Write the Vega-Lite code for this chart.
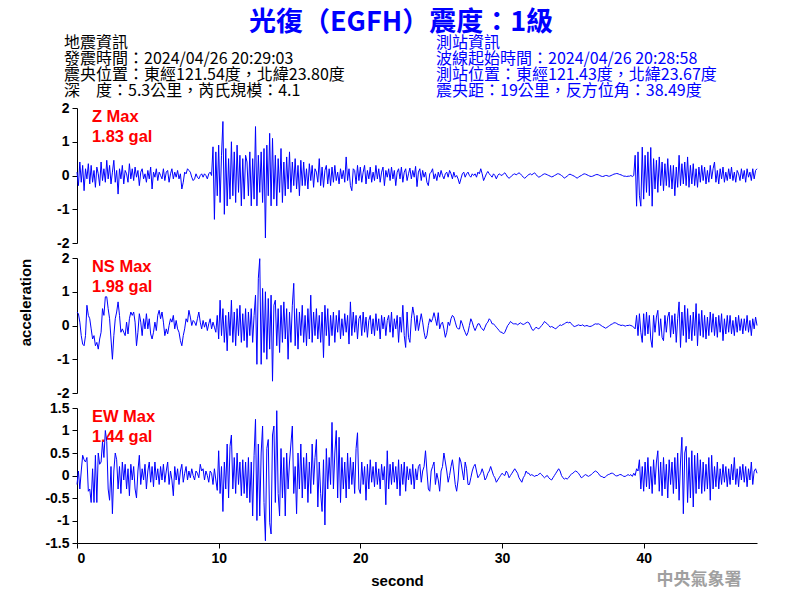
{
"$schema":"https://vega.github.io/schema/vega-lite/v6.json",
"background":"white",
"padding":{"left":17,"top":9,"right":5,"bottom":5},
"title":{"text":"光復（EGFH）震度：1級","color":"#0000ff","fontSize":27,"font":"Noto Sans CJK TC","fontWeight":"bold","anchor":"middle","frame":"group","dx":-16,"offset":-2},
"config":{"view":{"stroke":null},"axis":{"labelFont":"Liberation Sans","labelFontSize":14,"labelFontWeight":"bold","labelColor":"#000000","titleFont":"Liberation Sans","titleFontSize":15,"titleFontWeight":"bold","titleColor":"#000000","domainColor":"#000000","tickColor":"#000000","tickSize":5,"grid":false,"labelPadding":3}},
"spacing":15,
"bounds":"flush",
"datasets":{
"info":[
{"col":"eq","row":1,"text":"地震資訊"},
{"col":"eq","row":2,"text":"發震時間：2024/04/26 20:29:03"},
{"col":"eq","row":3,"text":"震央位置：東經121.54度，北緯23.80度"},
{"col":"eq","row":4,"text":"深　度：5.3公里，芮氏規模：4.1"},
{"col":"st","row":1,"text":"測站資訊"},
{"col":"st","row":2,"text":"波線起始時間：2024/04/26 20:28:58"},
{"col":"st","row":3,"text":"測站位置：東經121.43度，北緯23.67度"},
{"col":"st","row":4,"text":"震央距：19公里，反方位角：38.49度"}
],
"w":[
{"t":0,"z":0.1,"n":0.4,"e":-0.2},{"t":0.1,"z":-0.3,"n":0.35,"e":0.1},{"t":0.2,"z":0.4,"n":0.1,"e":-0.3},{"t":0.3,"z":-0.2,"n":-0.3,"e":0.1},{"t":0.4,"z":0.3,"n":-0.55,"e":0.45},{"t":0.5,"z":-0.45,"n":-0.6,"e":0.35},{"t":0.6,"z":0.2,"n":-0.3,"e":0.3},{"t":0.7,"z":-0.1,"n":0.6,"e":0.4},{"t":0.8,"z":0.35,"n":0.3,"e":-0.35},{"t":0.9,"z":-0.25,"n":0.2,"e":-0.3},
{"t":1,"z":0.3,"n":-0.1,"e":-0.6},{"t":1.1,"z":-0.2,"n":-0.4,"e":0.15},{"t":1.2,"z":0.15,"n":-0.3,"e":-0.6},{"t":1.3,"z":-0.35,"n":-0.6,"e":0.45},{"t":1.4,"z":0.25,"n":-0.5,"e":-0.6},{"t":1.5,"z":0.05,"n":-0.7,"e":0.5},{"t":1.6,"z":-0.3,"n":-0.4,"e":0.25},{"t":1.7,"z":0.4,"n":-0.2,"e":0.3},{"t":1.8,"z":-0.15,"n":0.5,"e":0.75},{"t":1.9,"z":0.2,"n":0.3,"e":0.4},
{"t":2,"z":-0.2,"n":0.85,"e":1.0},{"t":2.1,"z":0.45,"n":0.85,"e":0.75},{"t":2.2,"z":-0.1,"n":0.5,"e":-0.3},{"t":2.3,"z":0.3,"n":0.2,"e":-0.55},{"t":2.4,"z":-0.25,"n":-0.4,"e":0.2},{"t":2.5,"z":0.1,"n":-1.0,"e":-0.85},{"t":2.6,"z":0.45,"n":-0.3,"e":0.1},{"t":2.7,"z":-0.2,"n":0.2,"e":0.5},{"t":2.8,"z":0.15,"n":0.4,"e":0.35},{"t":2.9,"z":-0.55,"n":0.7,"e":-0.3},
{"t":3,"z":0.2,"n":0.3,"e":0.2},{"t":3.1,"z":-0.1,"n":-0.2,"e":-0.4},{"t":3.2,"z":0.3,"n":-0.1,"e":0.3},{"t":3.3,"z":-0.25,"n":-0.2,"e":-0.1},{"t":3.4,"z":0.15,"n":-0.3,"e":0.25},{"t":3.5,"z":0.05,"n":0.1,"e":-0.3},{"t":3.6,"z":-0.2,"n":-0.25,"e":0.15},{"t":3.7,"z":0.35,"n":0.2,"e":-0.45},{"t":3.8,"z":-0.1,"n":0.4,"e":0.25},{"t":3.9,"z":0.2,"n":0.3,"e":-0.1},
{"t":4,"z":-0.15,"n":0.4,"e":0.2},{"t":4.1,"z":0.25,"n":0.1,"e":-0.3},{"t":4.2,"z":-0.05,"n":-0.6,"e":-0.5},{"t":4.3,"z":0.15,"n":-0.2,"e":0.1},{"t":4.4,"z":-0.3,"n":0.35,"e":0.45},{"t":4.5,"z":0.1,"n":0.1,"e":-0.2},{"t":4.6,"z":0.2,"n":-0.3,"e":0.15},{"t":4.7,"z":-0.1,"n":0.2,"e":-0.1},{"t":4.8,"z":0.05,"n":-0.1,"e":0.25},{"t":4.9,"z":-0.2,"n":0.35,"e":-0.3},
{"t":5,"z":0.15,"n":-0.1,"e":0.1},{"t":5.1,"z":-0.1,"n":0.2,"e":0.3},{"t":5.2,"z":0.25,"n":-0.25,"e":-0.15},{"t":5.3,"z":-0.4,"n":-0.4,"e":0.2},{"t":5.4,"z":0.1,"n":-0.2,"e":-0.25},{"t":5.5,"z":-0.05,"n":0.1,"e":0.3},{"t":5.6,"z":0.2,"n":-0.15,"e":-0.1},{"t":5.7,"z":-0.15,"n":0.3,"e":0.15},{"t":5.8,"z":0.1,"n":0.45,"e":-0.2},{"t":5.9,"z":0.0,"n":0.2,"e":0.2},
{"t":6,"z":-0.1,"n":0.4,"e":-0.1},{"t":6.1,"z":0.2,"n":0.1,"e":0.25},{"t":6.2,"z":-0.15,"n":-0.3,"e":-0.15},{"t":6.3,"z":0.1,"n":-0.1,"e":0.1},{"t":6.4,"z":0.15,"n":-0.25,"e":0.3},{"t":6.5,"z":-0.2,"n":0.0,"e":-0.2},{"t":6.6,"z":0.05,"n":0.2,"e":0.1},{"t":6.7,"z":0.2,"n":0.1,"e":-0.1},{"t":6.8,"z":-0.1,"n":0.3,"e":-0.45},{"t":6.9,"z":0.1,"n":-0.1,"e":0.2},
{"t":7,"z":-0.05,"n":0.15,"e":-0.1},{"t":7.1,"z":0.15,"n":-0.1,"e":0.15},{"t":7.2,"z":-0.1,"n":-0.2,"e":-0.2},{"t":7.3,"z":0.05,"n":-0.45,"e":0.1},{"t":7.4,"z":-0.4,"n":-0.6,"e":0.25},{"t":7.5,"z":-0.2,"n":-0.3,"e":-0.15},{"t":7.6,"z":0.1,"n":-0.1,"e":0.05},{"t":7.7,"z":0.05,"n":0.2,"e":0.2},{"t":7.8,"z":0.2,"n":0.1,"e":-0.1},{"t":7.9,"z":0.15,"n":0.45,"e":0.1},
{"t":8,"z":0.1,"n":0.25,"e":-0.05},{"t":8.1,"z":-0.05,"n":0.0,"e":0.15},{"t":8.2,"z":-0.15,"n":0.15,"e":0.0},{"t":8.3,"z":-0.1,"n":0.1,"e":-0.1},{"t":8.4,"z":0.05,"n":0.0,"e":0.1},{"t":8.5,"z":-0.05,"n":0.2,"e":0.05},{"t":8.6,"z":-0.1,"n":0.4,"e":-0.05},{"t":8.7,"z":0.0,"n":0.1,"e":0.25},{"t":8.8,"z":0.05,"n":-0.1,"e":0.1},{"t":8.9,"z":-0.05,"n":0.15,"e":0.15},
{"t":9,"z":0.05,"n":-0.05,"e":-0.1},{"t":9.1,"z":0.0,"n":0.1,"e":0.1},{"t":9.2,"z":-0.1,"n":-0.15,"e":0.0},{"t":9.3,"z":0.05,"n":0.05,"e":-0.15},{"t":9.4,"z":0.1,"n":0.2,"e":0.1},{"t":9.5,"z":0.0,"n":-0.1,"e":0.05},{"t":9.6,"z":0.85,"n":0.1,"e":-0.2},{"t":9.7,"z":-1.3,"n":-0.05,"e":0.15},{"t":9.8,"z":0.7,"n":-0.2,"e":-0.1},{"t":9.9,"z":-0.6,"n":0.3,"e":-0.33},
{"t":10,"z":0.9,"n":-0.4,"e":0.55},{"t":10.1,"z":-0.8,"n":0.75,"e":-0.4},{"t":10.2,"z":0.6,"n":-0.3,"e":0.2},{"t":10.3,"z":1.6,"n":0.5,"e":-0.8},{"t":10.4,"z":-1.15,"n":-0.5,"e":0.3},{"t":10.5,"z":0.8,"n":0.3,"e":-0.3},{"t":10.6,"z":-0.9,"n":-0.75,"e":0.7},{"t":10.7,"z":0.5,"n":0.4,"e":-0.5},{"t":10.8,"z":-0.7,"n":-0.3,"e":0.65},{"t":10.9,"z":1.0,"n":0.75,"e":0.9},
{"t":11,"z":-0.6,"n":-0.5,"e":-0.3},{"t":11.1,"z":0.7,"n":0.4,"e":0.4},{"t":11.2,"z":-0.8,"n":-0.6,"e":-0.4},{"t":11.3,"z":0.9,"n":0.5,"e":0.5},{"t":11.4,"z":-0.5,"n":-0.3,"e":-0.2},{"t":11.5,"z":0.6,"n":0.6,"e":0.3},{"t":11.6,"z":-0.9,"n":-0.5,"e":-0.45},{"t":11.7,"z":0.5,"n":0.35,"e":0.35},{"t":11.8,"z":-0.7,"n":-0.45,"e":-0.4},{"t":11.9,"z":0.6,"n":0.5,"e":0.3},
{"t":12,"z":0.4,"n":-0.65,"e":-0.5},{"t":12.1,"z":-0.6,"n":0.4,"e":0.4},{"t":12.2,"z":0.7,"n":-0.3,"e":-0.6},{"t":12.3,"z":-0.9,"n":0.5,"e":0.3},{"t":12.4,"z":0.5,"n":-0.5,"e":-0.9},{"t":12.5,"z":-0.7,"n":0.3,"e":0.45},{"t":12.6,"z":1.45,"n":0.9,"e":1.25},{"t":12.7,"z":-0.9,"n":-1.15,"e":-1.0},{"t":12.8,"z":0.6,"n":1.4,"e":0.7},{"t":12.9,"z":-0.5,"n":1.98,"e":-0.9},
{"t":13,"z":0.7,"n":-1.15,"e":0.5},{"t":13.1,"z":-0.8,"n":1.1,"e":1.1},{"t":13.2,"z":0.8,"n":-0.8,"e":-0.6},{"t":13.3,"z":-1.85,"n":1.0,"e":-1.45},{"t":13.4,"z":0.9,"n":-1.0,"e":0.6},{"t":13.5,"z":-0.6,"n":0.8,"e":0.8},{"t":13.6,"z":1.25,"n":-0.7,"e":-1.05},{"t":13.7,"z":-0.9,"n":0.9,"e":-1.3},{"t":13.8,"z":1.1,"n":-1.65,"e":0.9},{"t":13.9,"z":-0.7,"n":0.6,"e":1.1},
{"t":14,"z":0.6,"n":0.75,"e":-0.6},{"t":14.1,"z":-0.9,"n":-0.6,"e":1.44},{"t":14.2,"z":0.5,"n":0.5,"e":-0.4},{"t":14.3,"z":-0.5,"n":-0.8,"e":-0.9},{"t":14.4,"z":0.8,"n":0.6,"e":0.6},{"t":14.5,"z":-0.8,"n":-0.5,"e":-0.5},{"t":14.6,"z":0.4,"n":0.7,"e":0.4},{"t":14.7,"z":-0.6,"n":-0.4,"e":-0.9},{"t":14.8,"z":0.55,"n":0.5,"e":0.5},{"t":14.9,"z":-0.4,"n":-1.0,"e":-0.3},
{"t":15,"z":0.7,"n":0.4,"e":0.3},{"t":15.1,"z":-0.5,"n":-0.5,"e":0.7},{"t":15.2,"z":0.4,"n":0.6,"e":1.1},{"t":15.3,"z":-0.3,"n":1.25,"e":-0.4},{"t":15.4,"z":0.5,"n":-0.6,"e":0.2},{"t":15.5,"z":-0.4,"n":0.5,"e":-0.85},{"t":15.6,"z":0.3,"n":-0.7,"e":0.5},{"t":15.7,"z":-0.6,"n":0.4,"e":-0.3},{"t":15.8,"z":0.45,"n":-0.3,"e":0.7},{"t":15.9,"z":-0.3,"n":0.6,"e":-0.5},
{"t":16,"z":0.4,"n":-0.5,"e":0.4},{"t":16.1,"z":-0.3,"n":0.3,"e":-0.3},{"t":16.2,"z":0.2,"n":-0.6,"e":0.5},{"t":16.3,"z":-0.4,"n":0.5,"e":-0.6},{"t":16.4,"z":0.35,"n":-0.4,"e":0.3},{"t":16.5,"z":-0.15,"n":0.9,"e":-0.4},{"t":16.6,"z":0.3,"n":-0.5,"e":0.7},{"t":16.7,"z":-0.35,"n":0.4,"e":-0.2},{"t":16.8,"z":0.2,"n":-0.3,"e":0.4},{"t":16.9,"z":0.1,"n":0.5,"e":0.8},
{"t":17,"z":-0.2,"n":-0.4,"e":-0.7},{"t":17.1,"z":0.5,"n":0.3,"e":0.3},{"t":17.2,"z":-0.3,"n":-0.5,"e":-0.4},{"t":17.3,"z":0.25,"n":0.4,"e":-0.8},{"t":17.4,"z":-0.35,"n":-0.95,"e":0.35},{"t":17.5,"z":0.15,"n":0.6,"e":-1.1},{"t":17.6,"z":0.3,"n":-0.3,"e":0.6},{"t":17.7,"z":-0.25,"n":0.5,"e":-0.3},{"t":17.8,"z":0.2,"n":-0.6,"e":0.4},{"t":17.9,"z":-0.3,"n":0.3,"e":-0.2},
{"t":18,"z":0.25,"n":-0.3,"e":1.18},{"t":18.1,"z":-0.2,"n":0.4,"e":-0.3},{"t":18.2,"z":0.3,"n":-0.5,"e":0.5},{"t":18.3,"z":-0.15,"n":0.3,"e":1.0},{"t":18.4,"z":0.1,"n":-0.2,"e":-0.5},{"t":18.5,"z":-0.25,"n":0.45,"e":0.85},{"t":18.6,"z":0.2,"n":-0.4,"e":-0.6},{"t":18.7,"z":-0.1,"n":0.2,"e":0.4},{"t":18.8,"z":0.15,"n":-0.3,"e":-0.3},{"t":18.9,"z":-0.2,"n":0.35,"e":0.3},
{"t":19,"z":0.55,"n":-0.2,"e":-0.5},{"t":19.1,"z":-0.15,"n":0.3,"e":0.5},{"t":19.2,"z":0.2,"n":-0.55,"e":-0.3},{"t":19.3,"z":-0.3,"n":0.7,"e":0.4},{"t":19.4,"z":-0.45,"n":-0.3,"e":-0.2},{"t":19.5,"z":0.2,"n":0.4,"e":0.3},{"t":19.6,"z":0.15,"n":-0.2,"e":-0.4},{"t":19.7,"z":-0.25,"n":0.3,"e":0.6},{"t":19.8,"z":0.3,"n":-0.4,"e":0.95},{"t":19.9,"z":-0.15,"n":0.2,"e":-0.3},
{"t":20,"z":0.25,"n":0.3,"e":-0.4},{"t":20.1,"z":-0.2,"n":-0.3,"e":0.3},{"t":20.2,"z":0.1,"n":0.4,"e":-0.2},{"t":20.3,"z":0.3,"n":-0.2,"e":0.2},{"t":20.4,"z":-0.25,"n":0.25,"e":-0.55},{"t":20.5,"z":0.15,"n":-0.35,"e":0.25},{"t":20.6,"z":-0.1,"n":0.15,"e":-0.3},{"t":20.7,"z":0.25,"n":0.3,"e":0.35},{"t":20.8,"z":-0.2,"n":-0.25,"e":-0.15},{"t":20.9,"z":0.1,"n":0.2,"e":0.2},
{"t":21,"z":-0.15,"n":-0.3,"e":-0.25},{"t":21.1,"z":0.3,"n":0.35,"e":0.3},{"t":21.2,"z":-0.1,"n":-0.15,"e":-0.2},{"t":21.3,"z":0.2,"n":0.2,"e":0.15},{"t":21.4,"z":-0.2,"n":-0.4,"e":-0.3},{"t":21.5,"z":0.1,"n":0.3,"e":0.25},{"t":21.6,"z":0.25,"n":-0.1,"e":-0.1},{"t":21.7,"z":-0.3,"n":0.25,"e":0.2},{"t":21.8,"z":0.15,"n":-0.3,"e":-0.65},{"t":21.9,"z":-0.05,"n":0.15,"e":0.55},
{"t":22,"z":0.2,"n":0.3,"e":-0.3},{"t":22.1,"z":-0.15,"n":-0.2,"e":0.25},{"t":22.2,"z":0.25,"n":0.4,"e":-0.2},{"t":22.3,"z":-0.1,"n":-0.35,"e":0.3},{"t":22.4,"z":0.15,"n":0.2,"e":-0.15},{"t":22.5,"z":-0.3,"n":-0.1,"e":0.2},{"t":22.6,"z":0.1,"n":0.3,"e":-0.3},{"t":22.7,"z":0.2,"n":-0.5,"e":0.35},{"t":22.8,"z":-0.1,"n":0.25,"e":-0.45},{"t":22.9,"z":0.25,"n":-0.2,"e":0.25},
{"t":23,"z":-0.2,"n":0.6,"e":-0.2},{"t":23.1,"z":0.1,"n":-0.3,"e":0.3},{"t":23.2,"z":0.2,"n":-0.65,"e":-0.35},{"t":23.3,"z":-0.15,"n":0.4,"e":0.2},{"t":23.4,"z":0.05,"n":-0.35,"e":-0.1},{"t":23.5,"z":0.22,"n":-0.5,"e":0.15},{"t":23.6,"z":-0.1,"n":0.2,"e":-0.2},{"t":23.7,"z":0.15,"n":0.55,"e":0.25},{"t":23.8,"z":-0.05,"n":0.3,"e":-0.3},{"t":23.9,"z":0.27,"n":-0.15,"e":0.15},
{"t":24,"z":-0.33,"n":0.3,"e":-0.1},{"t":24.1,"z":0.1,"n":-0.15,"e":0.2},{"t":24.2,"z":0.2,"n":0.1,"e":0.25},{"t":24.3,"z":-0.15,"n":0.35,"e":-0.15},{"t":24.4,"z":0.15,"n":0.1,"e":0.1},{"t":24.5,"z":-0.05,"n":-0.2,"e":0.2},{"t":24.6,"z":0.1,"n":-0.4,"e":0.55},{"t":24.7,"z":-0.2,"n":-0.3,"e":0.1},{"t":24.8,"z":-0.3,"n":0.0,"e":-0.3},{"t":24.9,"z":0.05,"n":0.2,"e":-0.35},
{"t":25,"z":0.1,"n":0.1,"e":0.1},{"t":25.1,"z":0.2,"n":0.2,"e":0.2},{"t":25.2,"z":-0.1,"n":0.38,"e":0.3},{"t":25.3,"z":0.05,"n":0.2,"e":-0.2},{"t":25.4,"z":-0.15,"n":0.0,"e":0.05},{"t":25.5,"z":0.1,"n":0.38,"e":-0.1},{"t":25.6,"z":-0.05,"n":-0.1,"e":-0.35},{"t":25.7,"z":0.15,"n":0.05,"e":0.1},{"t":25.8,"z":0.0,"n":0.1,"e":0.2},{"t":25.9,"z":-0.1,"n":-0.1,"e":0.5},
{"t":26,"z":0.05,"n":-0.35,"e":0.3},{"t":26.1,"z":0.1,"n":-0.2,"e":0.1},{"t":26.2,"z":-0.05,"n":0.1,"e":-0.15},{"t":26.3,"z":0.15,"n":0.0,"e":0.0},{"t":26.4,"z":0.05,"n":0.2,"e":0.2},{"t":26.5,"z":-0.1,"n":0.3,"e":0.35},{"t":26.6,"z":0.1,"n":0.25,"e":0.1},{"t":26.7,"z":-0.05,"n":0.1,"e":-0.2},{"t":26.8,"z":0.0,"n":-0.05,"e":-0.35},{"t":26.9,"z":-0.1,"n":-0.1,"e":-0.1},
{"t":27,"z":-0.25,"n":-0.1,"e":0.4},{"t":27.1,"z":-0.1,"n":0.15,"e":0.3},{"t":27.2,"z":0.05,"n":0.05,"e":0.1},{"t":27.3,"z":0.1,"n":-0.1,"e":-0.1},{"t":27.4,"z":-0.05,"n":-0.2,"e":0.3},{"t":27.5,"z":0.05,"n":-0.3,"e":0.15},{"t":27.6,"z":0.1,"n":-0.2,"e":-0.2},{"t":27.7,"z":0.0,"n":0.0,"e":-0.2},{"t":27.8,"z":-0.05,"n":0.2,"e":-0.05},{"t":27.9,"z":0.05,"n":0.1,"e":0.1},
{"t":28,"z":0.0,"n":-0.05,"e":0.2},{"t":28.1,"z":0.05,"n":-0.15,"e":0.25},{"t":28.2,"z":-0.05,"n":-0.05,"e":0.1},{"t":28.3,"z":0.1,"n":0.05,"e":-0.05},{"t":28.4,"z":0.05,"n":0.05,"e":0.0},{"t":28.5,"z":0.2,"n":-0.05,"e":0.05},{"t":28.6,"z":0.05,"n":-0.1,"e":0.15},{"t":28.7,"z":-0.15,"n":-0.15,"e":0.05},{"t":28.8,"z":-0.05,"n":-0.05,"e":-0.1},{"t":28.9,"z":0.05,"n":0.05,"e":-0.05},
{"t":29,"z":0.12,"n":0.1,"e":0.05},{"t":29.1,"z":0.05,"n":0.2,"e":0.1},{"t":29.2,"z":0.0,"n":0.15,"e":0.2},{"t":29.3,"z":-0.05,"n":0.05,"e":0.1},{"t":29.4,"z":0.05,"n":0.05,"e":0.0},{"t":29.5,"z":0.0,"n":0.0,"e":-0.05},{"t":29.6,"z":-0.1,"n":-0.05,"e":-0.15},{"t":29.7,"z":0.0,"n":-0.1,"e":-0.1},{"t":29.8,"z":0.05,"n":-0.15,"e":-0.05},{"t":29.9,"z":0.02,"n":-0.2,"e":0.0},
{"t":30,"z":0.0,"n":-0.2,"e":0.05},{"t":30.1,"z":0.05,"n":-0.25,"e":0.02},{"t":30.2,"z":0.08,"n":-0.2,"e":0.0},{"t":30.3,"z":0.02,"n":-0.1,"e":0.1},{"t":30.4,"z":-0.05,"n":0.0,"e":0.05},{"t":30.5,"z":-0.08,"n":0.05,"e":-0.05},{"t":30.6,"z":-0.05,"n":0.12,"e":0.0},{"t":30.7,"z":0.0,"n":0.08,"e":0.05},{"t":30.8,"z":0.03,"n":0.05,"e":0.1},{"t":30.9,"z":0.05,"n":0.05,"e":0.15},
{"t":31,"z":0.02,"n":0.05,"e":0.1},{"t":31.1,"z":0.05,"n":0.02,"e":0.05},{"t":31.2,"z":0.08,"n":0.05,"e":-0.05},{"t":31.3,"z":0.05,"n":0.08,"e":-0.1},{"t":31.4,"z":0.0,"n":0.05,"e":-0.15},{"t":31.5,"z":-0.05,"n":0.03,"e":-0.05},{"t":31.6,"z":-0.08,"n":0.05,"e":0.0},{"t":31.7,"z":-0.05,"n":0.08,"e":0.1},{"t":31.8,"z":0.0,"n":0.1,"e":0.05},{"t":31.9,"z":0.03,"n":0.08,"e":0.05},
{"t":32,"z":0.05,"n":0.0,"e":0.0},{"t":32.1,"z":0.02,"n":-0.1,"e":0.02},{"t":32.2,"z":0.05,"n":-0.15,"e":0.0},{"t":32.3,"z":0.08,"n":-0.1,"e":-0.02},{"t":32.4,"z":0.03,"n":-0.05,"e":0.0},{"t":32.5,"z":-0.02,"n":-0.08,"e":0.0},{"t":32.6,"z":-0.05,"n":-0.1,"e":0.03},{"t":32.7,"z":-0.03,"n":-0.05,"e":0.05},{"t":32.8,"z":0.0,"n":0.0,"e":0.02},{"t":32.9,"z":0.03,"n":0.05,"e":-0.02},
{"t":33,"z":0.05,"n":0.12,"e":-0.05},{"t":33.1,"z":0.04,"n":0.08,"e":-0.02},{"t":33.2,"z":0.02,"n":0.05,"e":0.0},{"t":33.3,"z":0.0,"n":0.0,"e":-0.05},{"t":33.4,"z":-0.02,"n":-0.05,"e":-0.08},{"t":33.5,"z":-0.04,"n":-0.03,"e":-0.1},{"t":33.6,"z":-0.03,"n":-0.05,"e":-0.05},{"t":33.7,"z":0.0,"n":-0.08,"e":0.0},{"t":33.8,"z":0.02,"n":-0.1,"e":0.05},{"t":33.9,"z":0.05,"n":-0.05,"e":0.1},
{"t":34,"z":0.05,"n":-0.02,"e":0.15},{"t":34.1,"z":0.03,"n":0.02,"e":0.1},{"t":34.2,"z":0.0,"n":0.0,"e":0.0},{"t":34.3,"z":-0.03,"n":0.03,"e":-0.05},{"t":34.4,"z":-0.08,"n":0.05,"e":-0.08},{"t":34.5,"z":-0.05,"n":0.08,"e":-0.06},{"t":34.6,"z":-0.02,"n":0.1,"e":-0.08},{"t":34.7,"z":0.02,"n":0.08,"e":-0.05},{"t":34.8,"z":0.04,"n":0.1,"e":0.0},{"t":34.9,"z":0.02,"n":0.05,"e":0.03},
{"t":35,"z":0.0,"n":0.0,"e":0.05},{"t":35.1,"z":-0.02,"n":-0.03,"e":0.08},{"t":35.2,"z":-0.05,"n":-0.02,"e":0.1},{"t":35.3,"z":-0.08,"n":0.0,"e":0.08},{"t":35.4,"z":-0.05,"n":0.02,"e":0.05},{"t":35.5,"z":-0.02,"n":0.0,"e":0.0},{"t":35.6,"z":0.0,"n":0.0,"e":-0.05},{"t":35.7,"z":0.03,"n":0.02,"e":-0.03},{"t":35.8,"z":0.05,"n":-0.02,"e":0.0},{"t":35.9,"z":0.04,"n":-0.01,"e":0.02},
{"t":36,"z":0.02,"n":0.0,"e":0.0},{"t":36.1,"z":0.0,"n":-0.02,"e":-0.02},{"t":36.2,"z":-0.02,"n":-0.03,"e":0.0},{"t":36.3,"z":-0.03,"n":-0.02,"e":0.02},{"t":36.4,"z":-0.02,"n":0.0,"e":0.05},{"t":36.5,"z":0.0,"n":0.03,"e":0.08},{"t":36.6,"z":0.02,"n":0.05,"e":0.1},{"t":36.7,"z":0.03,"n":0.04,"e":0.08},{"t":36.8,"z":0.02,"n":0.05,"e":0.05},{"t":36.9,"z":0.0,"n":0.03,"e":0.0},
{"t":37,"z":-0.02,"n":0.0,"e":-0.02},{"t":37.1,"z":-0.03,"n":-0.03,"e":-0.03},{"t":37.2,"z":-0.02,"n":-0.05,"e":-0.05},{"t":37.3,"z":0.0,"n":-0.08,"e":-0.03},{"t":37.4,"z":0.0,"n":-0.06,"e":0.0},{"t":37.5,"z":-0.02,"n":-0.03,"e":0.02},{"t":37.6,"z":-0.02,"n":0.0,"e":0.03},{"t":37.7,"z":0.0,"n":0.03,"e":0.05},{"t":37.8,"z":0.02,"n":0.05,"e":0.05},{"t":37.9,"z":0.04,"n":0.08,"e":0.03},
{"t":38,"z":0.05,"n":0.08,"e":0.0},{"t":38.1,"z":0.06,"n":0.06,"e":-0.01},{"t":38.2,"z":0.05,"n":0.03,"e":0.0},{"t":38.3,"z":0.03,"n":0.02,"e":0.02},{"t":38.4,"z":0.02,"n":0.0,"e":0.02},{"t":38.5,"z":0.0,"n":0.01,"e":0.0},{"t":38.6,"z":-0.02,"n":0.0,"e":-0.02},{"t":38.7,"z":-0.02,"n":-0.02,"e":-0.02},{"t":38.8,"z":-0.03,"n":0.0,"e":0.0},{"t":38.9,"z":-0.02,"n":0.0,"e":0.02},
{"t":39,"z":-0.02,"n":0.01,"e":0.0},{"t":39.1,"z":0.0,"n":0.0,"e":0.02},{"t":39.2,"z":-0.03,"n":-0.02,"e":-0.02},{"t":39.3,"z":0.0,"n":-0.05,"e":0.05},{"t":39.4,"z":0.6,"n":-0.1,"e":0.0},{"t":39.5,"z":-0.91,"n":0.3,"e":0.15},{"t":39.6,"z":0.7,"n":-0.3,"e":0.1},{"t":39.7,"z":-0.6,"n":0.35,"e":0.35},{"t":39.8,"z":-0.91,"n":-0.2,"e":-0.3},{"t":39.9,"z":0.84,"n":-0.5,"e":0.2},
{"t":40,"z":-0.7,"n":0.35,"e":-0.35},{"t":40.1,"z":0.6,"n":-0.3,"e":0.3},{"t":40.2,"z":-0.5,"n":0.4,"e":-0.25},{"t":40.3,"z":0.7,"n":-0.25,"e":0.4},{"t":40.4,"z":-0.6,"n":0.3,"e":-0.3},{"t":40.5,"z":0.83,"n":-0.4,"e":0.2},{"t":40.6,"z":-0.91,"n":-0.65,"e":-0.4},{"t":40.7,"z":0.5,"n":0.3,"e":0.35},{"t":40.8,"z":-0.4,"n":-0.2,"e":-0.2},{"t":40.9,"z":0.45,"n":0.25,"e":0.3},
{"t":41,"z":-0.5,"n":0.45,"e":0.55},{"t":41.1,"z":0.55,"n":-0.3,"e":-0.35},{"t":41.2,"z":-0.3,"n":0.2,"e":0.3},{"t":41.3,"z":0.4,"n":-0.35,"e":-0.45},{"t":41.4,"z":-0.45,"n":-0.45,"e":0.4},{"t":41.5,"z":0.35,"n":0.3,"e":-0.3},{"t":41.6,"z":-0.3,"n":-0.2,"e":0.25},{"t":41.7,"z":0.5,"n":0.25,"e":-0.5},{"t":41.8,"z":-0.35,"n":0.4,"e":0.35},{"t":41.9,"z":0.3,"n":-0.35,"e":-0.2},
{"t":42,"z":-0.4,"n":0.3,"e":0.3},{"t":42.1,"z":0.3,"n":-0.25,"e":-0.4},{"t":42.2,"z":-0.6,"n":0.35,"e":0.4},{"t":42.3,"z":0.25,"n":-0.5,"e":-0.3},{"t":42.4,"z":-0.35,"n":0.2,"e":0.5},{"t":42.5,"z":0.6,"n":0.7,"e":-0.55},{"t":42.6,"z":-0.3,"n":-0.65,"e":0.3},{"t":42.7,"z":0.35,"n":0.4,"e":0.85},{"t":42.8,"z":-0.25,"n":-0.3,"e":-0.85},{"t":42.9,"z":0.4,"n":0.6,"e":0.5},
{"t":43,"z":-0.3,"n":-0.5,"e":0.65},{"t":43.1,"z":0.55,"n":0.5,"e":-0.6},{"t":43.2,"z":-0.35,"n":-0.4,"e":0.4},{"t":43.3,"z":0.3,"n":0.3,"e":-0.5},{"t":43.4,"z":-0.25,"n":-0.45,"e":0.55},{"t":43.5,"z":0.35,"n":0.4,"e":-0.7},{"t":43.6,"z":-0.3,"n":-0.3,"e":0.45},{"t":43.7,"z":0.2,"n":0.65,"e":-0.4},{"t":43.8,"z":-0.35,"n":-0.6,"e":0.5},{"t":43.9,"z":0.25,"n":0.35,"e":-0.3},
{"t":44,"z":-0.2,"n":-0.3,"e":0.35},{"t":44.1,"z":0.3,"n":0.45,"e":-0.4},{"t":44.2,"z":-0.15,"n":-0.35,"e":0.3},{"t":44.3,"z":0.25,"n":0.3,"e":-0.35},{"t":44.4,"z":-0.25,"n":-0.4,"e":0.25},{"t":44.5,"z":0.15,"n":0.25,"e":-0.3},{"t":44.6,"z":-0.2,"n":-0.3,"e":0.4},{"t":44.7,"z":0.3,"n":0.4,"e":-0.55},{"t":44.8,"z":-0.1,"n":-0.2,"e":0.45},{"t":44.9,"z":0.2,"n":0.35,"e":-0.3},
{"t":45,"z":0.4,"n":-0.3,"e":0.2},{"t":45.1,"z":-0.2,"n":0.25,"e":-0.25},{"t":45.2,"z":0.15,"n":-0.35,"e":0.3},{"t":45.3,"z":-0.25,"n":0.3,"e":-0.3},{"t":45.4,"z":0.2,"n":-0.2,"e":0.15},{"t":45.5,"z":-0.1,"n":0.35,"e":-0.2},{"t":45.6,"z":0.25,"n":-0.45,"e":0.25},{"t":45.7,"z":-0.2,"n":0.2,"e":-0.15},{"t":45.8,"z":0.1,"n":-0.25,"e":0.2},{"t":45.9,"z":-0.15,"n":0.3,"e":-0.25},
{"t":46,"z":0.2,"n":-0.2,"e":0.15},{"t":46.1,"z":-0.1,"n":0.3,"e":-0.2},{"t":46.2,"z":0.25,"n":-0.25,"e":0.25},{"t":46.3,"z":-0.15,"n":0.15,"e":-0.1},{"t":46.4,"z":0.1,"n":-0.3,"e":0.4},{"t":46.5,"z":-0.2,"n":0.25,"e":-0.2},{"t":46.6,"z":0.15,"n":-0.2,"e":0.15},{"t":46.7,"z":0.05,"n":0.3,"e":-0.25},{"t":46.8,"z":-0.15,"n":-0.15,"e":0.2},{"t":46.9,"z":0.2,"n":0.2,"e":-0.1},
{"t":47,"z":-0.1,"n":-0.25,"e":0.25},{"t":47.1,"z":0.15,"n":0.2,"e":-0.15},{"t":47.2,"z":-0.2,"n":-0.15,"e":0.2},{"t":47.3,"z":0.2,"n":0.3,"e":-0.25},{"t":47.4,"z":-0.05,"n":-0.2,"e":0.15},{"t":47.5,"z":0.1,"n":0.15,"e":-0.1},{"t":47.6,"z":-0.15,"n":-0.3,"e":0.3},{"t":47.7,"z":0.2,"n":0.2,"e":-0.2},{"t":47.8,"z":-0.1,"n":-0.1,"e":0.1},{"t":47.9,"z":0.15,"n":0.25,"e":0.15},
{"t":48,"z":0.2,"n":0.0,"e":0.05}
]},
"vconcat":[
{"width":680,"height":50,"data":{"name":"info"},
 "mark":{"type":"text","align":"left","baseline":"middle","font":"Noto Sans CJK TC","fontSize":16},
 "encoding":{
  "x":{"field":"col","type":"nominal","axis":null,"scale":{"type":"point","domain":["eq","st"],"range":[-13,359],"padding":0}},
  "y":{"field":"row","type":"quantitative","axis":null,"scale":{"domain":[1,4.125],"reverse":true}},
  "text":{"field":"text"},
  "color":{"field":"col","type":"nominal","legend":null,"scale":{"domain":["eq","st"],"range":["#000000","#0000ff"]}}}},
{"width":680,"height":135,
 "layer":[
  {"data":{"values":[{"lab":"Z Max\n1.83 gal"}]},
   "mark":{"type":"text","align":"left","baseline":"top","color":"#ff0000","fontSize":16.5,"fontWeight":"bold","font":"Liberation Sans","lineBreak":"\n","lineHeight":20,"dy":1},
   "encoding":{"x":{"datum":1.05,"type":"quantitative","scale":{"domain":[0,48],"nice":false},"axis":null},"y":{"datum":2,"type":"quantitative","scale":{"domain":[-2,2],"nice":false},"axis":{"values":[-2,-1,0,1,2],"title":null,"labelExpr":"datum.value + ''"}},"text":{"field":"lab"}}},
  {"data":{"name":"w"},
   "mark":{"type":"line","color":"#0000ff","strokeWidth":1},
   "encoding":{"x":{"field":"t","type":"quantitative","scale":{"domain":[0,48],"nice":false},"axis":null},"y":{"field":"z","type":"quantitative","scale":{"domain":[-2,2],"nice":false},"axis":{"values":[-2,-1,0,1,2],"title":null,"labelExpr":"datum.value + ''"}}}}
 ]},
{"width":680,"height":135,
 "layer":[
  {"data":{"values":[{"lab":"NS Max\n1.98 gal"}]},
   "mark":{"type":"text","align":"left","baseline":"top","color":"#ff0000","fontSize":16.5,"fontWeight":"bold","font":"Liberation Sans","lineBreak":"\n","lineHeight":20,"dy":1},
   "encoding":{"x":{"datum":1.05,"type":"quantitative","scale":{"domain":[0,48],"nice":false},"axis":null},"y":{"datum":2,"type":"quantitative","scale":{"domain":[-2,2],"nice":false},"axis":{"values":[-2,-1,0,1,2],"title":"acceleration","titleX":-44,"titleY":44,"titleAlign":"center","labelExpr":"datum.value + ''"}},"text":{"field":"lab"}}},
  {"data":{"name":"w"},
   "mark":{"type":"line","color":"#0000ff","strokeWidth":1},
   "encoding":{"x":{"field":"t","type":"quantitative","scale":{"domain":[0,48],"nice":false},"axis":null},"y":{"field":"n","type":"quantitative","scale":{"domain":[-2,2],"nice":false},"axis":{"values":[-2,-1,0,1,2],"title":"acceleration","titleX":-44,"titleY":44,"titleAlign":"center","labelExpr":"datum.value + ''"}}}}
 ]},
{"width":680,"height":135,
 "layer":[
  {"data":{"values":[{"lab":"EW Max\n1.44 gal"}]},
   "mark":{"type":"text","align":"left","baseline":"top","color":"#ff0000","fontSize":16.5,"fontWeight":"bold","font":"Liberation Sans","lineBreak":"\n","lineHeight":20,"dy":1},
   "encoding":{"x":{"datum":1.05,"type":"quantitative","scale":{"domain":[0,48],"nice":false},"axis":{"values":[0,10,20,30,40],"title":"second","titleX":320,"titlePadding":8,"labelExpr":"datum.value + ''"}},"y":{"datum":1.5,"type":"quantitative","scale":{"domain":[-1.5,1.5],"nice":false},"axis":{"values":[-1.5,-1,-0.5,0,0.5,1,1.5],"title":null,"labelExpr":"datum.value + ''"}},"text":{"field":"lab"}}},
  {"data":{"name":"w"},
   "mark":{"type":"line","color":"#0000ff","strokeWidth":1},
   "encoding":{"x":{"field":"t","type":"quantitative","scale":{"domain":[0,48],"nice":false},"axis":{"values":[0,10,20,30,40],"title":"second","titleX":320,"titlePadding":8,"labelExpr":"datum.value + ''"}},"y":{"field":"e","type":"quantitative","scale":{"domain":[-1.5,1.5],"nice":false},"axis":{"values":[-1.5,-1,-0.5,0,0.5,1,1.5],"title":null,"labelExpr":"datum.value + ''"}}}},
  {"data":{"values":[{"org":"中央氣象署"}]},
   "mark":{"type":"text","align":"center","baseline":"middle","color":"#a0a0a0","fontSize":17,"fontWeight":"bold","font":"Noto Sans CJK TC"},
   "encoding":{"x":{"datum":43.9,"type":"quantitative","scale":{"domain":[0,48],"nice":false},"axis":{"values":[0,10,20,30,40],"title":"second","titleX":320,"titlePadding":8,"labelExpr":"datum.value + ''"}},"y":{"datum":-2.32,"type":"quantitative","scale":{"domain":[-1.5,1.5],"nice":false},"axis":{"values":[-1.5,-1,-0.5,0,0.5,1,1.5],"title":null,"labelExpr":"datum.value + ''"}},"text":{"field":"org"}}}
 ]}
]
}
